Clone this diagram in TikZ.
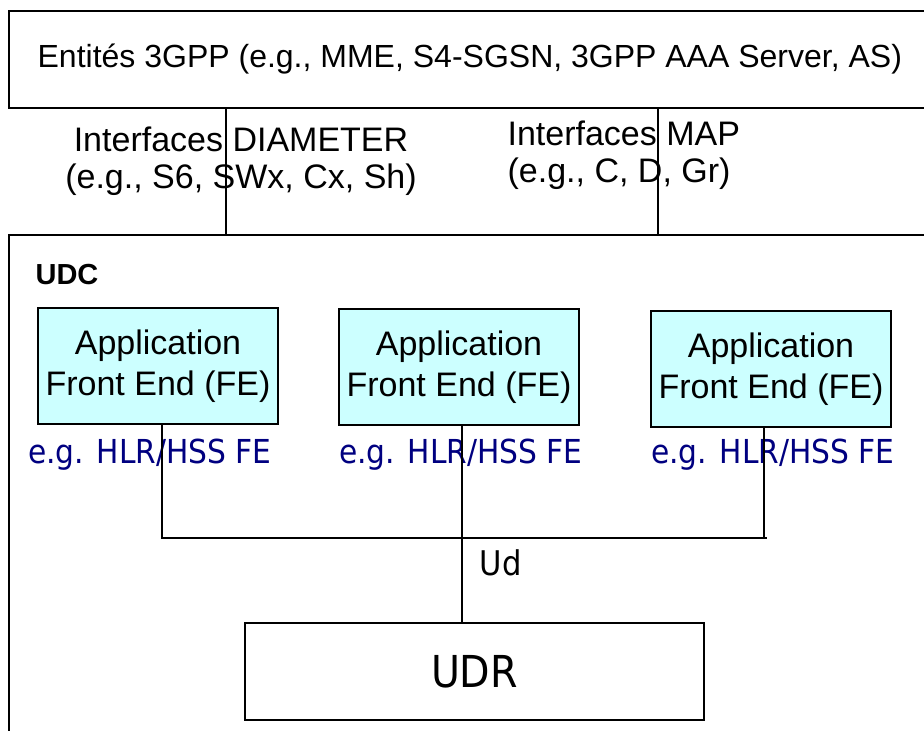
\documentclass[tikz,border=0pt]{standalone}
\usepackage{fontspec}
\setmainfont{Liberation Sans}
\newfontfamily\egfont[FakeStretch=0.9]{DejaVu Sans}
\usepackage{tikz}
\definecolor{feblue}{HTML}{CCFFFF}
\definecolor{egnavy}{HTML}{000080}

\begin{document}
\begin{tikzpicture}[x=1pt,y=-1pt,line width=1.2pt,
  outerbox/.style={draw,line width=1.6pt,anchor=north west,inner sep=0pt},
  iftext/.style={inner sep=0pt,font=\fontsize{34}{37}\selectfont},
  febox/.style={draw,line width=1.6pt,fill=feblue,minimum width=240,minimum height=116,
    inner sep=0pt,align=center,font=\fontsize{34}{41}\selectfont},
  egtext/.style={anchor=base,inner sep=0pt,text=egnavy,font=\egfont\fontsize{33}{38}\selectfont},
  udrbox/.style={draw,line width=1.6pt,minimum width=459,minimum height=97,inner sep=0pt,
    font=\egfont\fontsize{44}{50}\selectfont}]
\useasboundingbox (0,0) rectangle (924,731);
\node[outerbox,minimum width=922,minimum height=97,font=\fontsize{32}{38}\selectfont] (entites) at (8,10) {Entités 3GPP (e.g., MME, S4-SGSN, 3GPP AAA Server, AS)};
\node[outerbox,minimum width=922,minimum height=510] (udc) at (8,234) {};
\node[anchor=west,inner sep=0pt,font=\bfseries\fontsize{29}{34}\selectfont] (udclabel) at (35,275) {UDC};
\node[iftext,align=center,anchor=north] (diam) at (241,126) {Interfaces DIAMETER\\(e.g., S6, SWx, Cx, Sh)};
\node[iftext,align=left,anchor=north west] (map) at (507,120) {Interfaces MAP\\(e.g., C, D, Gr)};
\coordinate (diamtap) at (226,0);
\coordinate (maptap) at (658,0);
\draw (entites.south -| diamtap) -- (udc.north -| diamtap);
\draw (entites.south -| maptap) -- (udc.north -| maptap);
\node[febox] (fe1) at (158,366) {Application\\Front End (FE)};
\node[febox] (fe2) at (459,367) {Application\\Front End (FE)};
\node[febox] (fe3) at (771,369) {Application\\Front End (FE)};
\node[egtext] (eg1) at (150,463) {e.g. HLR/HSS FE};
\node[egtext] (eg2) at (461,463) {e.g. HLR/HSS FE};
\node[egtext] (eg3) at (773,463) {e.g. HLR/HSS FE};
\node[udrbox] (udr) at (474.5,671.5) {UDR};
\coordinate (bus1) at (162,538);
\coordinate (bus2) at (462,538);
\coordinate (bus3) at (764,538);
\coordinate (busend) at (767,538);
\draw (fe1.south -| bus1) -- (bus1) -- (busend);
\draw (fe3.south -| bus3) -- (bus3);
\draw (fe2.south -| bus2) -- (udr.north -| bus2);
\node[anchor=base west,inner sep=0pt,font=\egfont\fontsize{34}{40}\selectfont] (ud) at (479,575) {Ud};
\end{tikzpicture}
\end{document}
